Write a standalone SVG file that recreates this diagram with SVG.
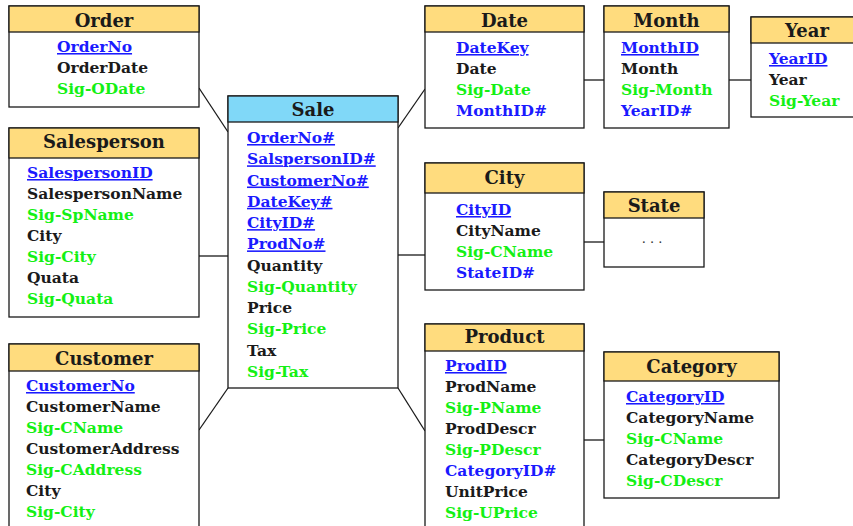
<svg xmlns="http://www.w3.org/2000/svg" width="853" height="526" viewBox="0 0 853 526">
<style>
.box{fill:#fff;stroke:#1a1a1a;stroke-width:1.3}
.hd{fill:#FFDC7E;stroke:#1a1a1a;stroke-width:1.3}
.hs{fill:#80D8F8;stroke:#1a1a1a;stroke-width:1.3}
.t{font-family:"DejaVu Serif",serif;font-weight:bold;font-size:18px;text-anchor:middle;fill:#1a1a1a}
.a{font-family:"DejaVu Serif",serif;font-weight:bold;font-size:15.5px;fill:#1a1a1a}
.k{fill:#1a1aff;text-decoration:underline}
.f{fill:#1a1aff}
.g{fill:#14f014}
.c{stroke:#1a1a1a;stroke-width:1.3;fill:none}
</style>
<rect width="853" height="526" fill="#fff"/>
<g id="connectors">
<line class="c" x1="199" y1="88" x2="228" y2="132"/>
<line class="c" x1="199" y1="256" x2="228" y2="256"/>
<line class="c" x1="199" y1="430" x2="228" y2="388"/>
<line class="c" x1="398" y1="128" x2="425" y2="89"/>
<line class="c" x1="398" y1="255" x2="425" y2="255"/>
<line class="c" x1="398" y1="388" x2="425" y2="431"/>
<line class="c" x1="584" y1="80" x2="604" y2="80"/>
<line class="c" x1="729" y1="80" x2="751" y2="80"/>
<line class="c" x1="584" y1="242" x2="604" y2="242"/>
<line class="c" x1="584" y1="440" x2="604" y2="440"/>
</g>
<g id="order">
<rect class="box" x="9" y="6" width="190" height="101"/>
<rect class="hd" x="9" y="6" width="190" height="26"/>
<text class="t" x="104" y="27">Order</text>
<text class="a k" x="57" y="52">OrderNo</text>
<text class="a" x="57" y="73">OrderDate</text>
<text class="a g" x="57" y="94">Sig-ODate</text>
</g>
<g id="salesperson">
<rect class="box" x="9" y="128" width="190" height="189"/>
<rect class="hd" x="9" y="128" width="190" height="30"/>
<text class="t" x="104" y="148">Salesperson</text>
<text class="a k" x="27" y="178">SalespersonID</text>
<text class="a" x="27" y="199">SalespersonName</text>
<text class="a g" x="27" y="220">Sig-SpName</text>
<text class="a" x="27" y="241">City</text>
<text class="a g" x="27" y="262">Sig-City</text>
<text class="a" x="27" y="283">Quata</text>
<text class="a g" x="27" y="304">Sig-Quata</text>
</g>
<g id="customer">
<rect class="box" x="9" y="344" width="190" height="200"/>
<rect class="hd" x="9" y="344" width="190" height="27"/>
<text class="t" x="104" y="365">Customer</text>
<text class="a k" x="26" y="391">CustomerNo</text>
<text class="a" x="26" y="412">CustomerName</text>
<text class="a g" x="26" y="433">Sig-CName</text>
<text class="a" x="26" y="454">CustomerAddress</text>
<text class="a g" x="26" y="475">Sig-CAddress</text>
<text class="a" x="26" y="496">City</text>
<text class="a g" x="26" y="517">Sig-City</text>
</g>
<g id="sale">
<rect class="box" x="228" y="96" width="170" height="292"/>
<rect class="hs" x="228" y="96" width="170" height="26"/>
<text class="t" x="313" y="116">Sale</text>
<text class="a k" x="247" y="143">OrderNo#</text>
<text class="a k" x="247" y="164.3">SalspersonID#</text>
<text class="a k" x="247" y="185.5">CustomerNo#</text>
<text class="a k" x="247" y="206.8">DateKey#</text>
<text class="a k" x="247" y="228.1">CityID#</text>
<text class="a k" x="247" y="249.4">ProdNo#</text>
<text class="a" x="247" y="270.6">Quantity</text>
<text class="a g" x="247" y="291.9">Sig-Quantity</text>
<text class="a" x="247" y="313.2">Price</text>
<text class="a g" x="247" y="334.4">Sig-Price</text>
<text class="a" x="247" y="355.7">Tax</text>
<text class="a g" x="247" y="377">Sig-Tax</text>
</g>
<g id="date">
<rect class="box" x="425" y="6" width="159" height="122"/>
<rect class="hd" x="425" y="6" width="159" height="26"/>
<text class="t" x="504.5" y="27">Date</text>
<text class="a k" x="456" y="53">DateKey</text>
<text class="a" x="456" y="74">Date</text>
<text class="a g" x="456" y="95">Sig-Date</text>
<text class="a f" x="456" y="116">MonthID#</text>
</g>
<g id="month">
<rect class="box" x="604" y="6" width="125" height="122"/>
<rect class="hd" x="604" y="6" width="125" height="26"/>
<text class="t" x="666.5" y="27">Month</text>
<text class="a k" x="621" y="53">MonthID</text>
<text class="a" x="621" y="74">Month</text>
<text class="a g" x="621" y="95">Sig-Month</text>
<text class="a f" x="621" y="116">YearID#</text>
</g>
<g id="year">
<rect class="box" x="751" y="17" width="112" height="100"/>
<rect class="hd" x="751" y="17" width="112" height="26"/>
<text class="t" x="807" y="37">Year</text>
<text class="a k" x="769" y="64">YearID</text>
<text class="a" x="769" y="85">Year</text>
<text class="a g" x="769" y="106">Sig-Year</text>
</g>
<g id="city">
<rect class="box" x="425" y="163" width="159" height="127"/>
<rect class="hd" x="425" y="163" width="159" height="30"/>
<text class="t" x="504.5" y="184">City</text>
<text class="a k" x="456" y="215">CityID</text>
<text class="a" x="456" y="236">CityName</text>
<text class="a g" x="456" y="257">Sig-CName</text>
<text class="a f" x="456" y="278">StateID#</text>
</g>
<g id="state">
<rect class="box" x="604" y="192" width="100" height="75"/>
<rect class="hd" x="604" y="192" width="100" height="26"/>
<text class="t" x="654" y="212">State</text>
<text x="652" y="243" font-family="DejaVu Serif, serif" font-size="13" text-anchor="middle" fill="#333">. . .</text>
</g>
<g id="product">
<rect class="box" x="425" y="324" width="159" height="220"/>
<rect class="hd" x="425" y="324" width="159" height="27"/>
<text class="t" x="504.5" y="343">Product</text>
<text class="a k" x="445" y="371">ProdID</text>
<text class="a" x="445" y="392">ProdName</text>
<text class="a g" x="445" y="413">Sig-PName</text>
<text class="a" x="445" y="434">ProdDescr</text>
<text class="a g" x="445" y="455">Sig-PDescr</text>
<text class="a f" x="445" y="476">CategoryID#</text>
<text class="a" x="445" y="497">UnitPrice</text>
<text class="a g" x="445" y="518">Sig-UPrice</text>
</g>
<g id="category">
<rect class="box" x="604" y="352" width="175" height="146"/>
<rect class="hd" x="604" y="352" width="175" height="29"/>
<text class="t" x="691.5" y="373">Category</text>
<text class="a k" x="626" y="402">CategoryID</text>
<text class="a" x="626" y="423">CategoryName</text>
<text class="a g" x="626" y="444">Sig-CName</text>
<text class="a" x="626" y="465">CategoryDescr</text>
<text class="a g" x="626" y="486">Sig-CDescr</text>
</g>
</svg>
